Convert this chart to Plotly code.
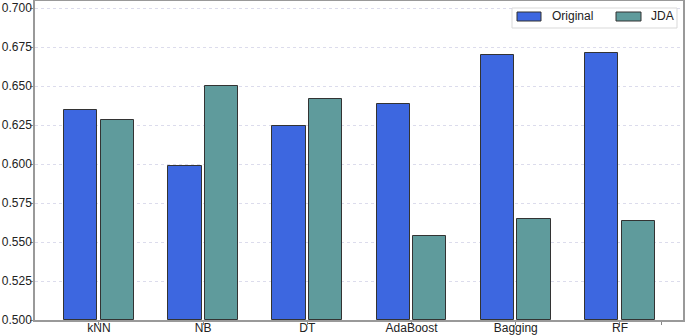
import plotly.graph_objects as go

categories = ["kNN", "NB", "DT", "AdaBoost", "Bagging", "RF"]
original = [0.6348, 0.5985, 0.6244, 0.6383, 0.6699, 0.6712]
jda = [0.6280, 0.6502, 0.6415, 0.5540, 0.5645, 0.5637]
y_ticks = [0.500, 0.525, 0.550, 0.575, 0.600, 0.625, 0.650, 0.675, 0.700]
series_names = ["Original", "JDA"]
series_colors = ["#3d67e0", "#5f9b9c"]

Y_BASE = 0.5
xpos = list(range(len(categories)))

fig = go.Figure()
fig.add_trace(go.Bar(
    x=xpos, y=[v - Y_BASE for v in original], base=Y_BASE, name=series_names[0],
    marker=dict(color=series_colors[0], line=dict(color="#333333", width=1)),
    width=0.32, offset=-0.335, showlegend=False,
))
fig.add_trace(go.Bar(
    x=xpos, y=[v - Y_BASE for v in jda], base=Y_BASE, name=series_names[1],
    marker=dict(color=series_colors[1], line=dict(color="#333333", width=1)),
    width=0.32, offset=0.015, showlegend=False,
))

# Custom legend (matplotlib-style wide swatches) in paper coordinates
L, R, T, B = 35, 683, 1, 320
W, H = R - L, B - T
px = lambda x: (x - L) / W
py = lambda y: (B - y) / H

shapes = [
    dict(type="rect", xref="paper", yref="paper",
         x0=px(512), x1=px(677), y0=py(28), y1=py(8),
         line=dict(color="#d9d9d9", width=1), fillcolor="white", layer="above"),
    dict(type="rect", xref="paper", yref="paper",
         x0=px(517), x1=px(541), y0=py(21), y1=py(12),
         line=dict(color="#333333", width=1), fillcolor=series_colors[0], layer="above"),
    dict(type="rect", xref="paper", yref="paper",
         x0=px(616), x1=px(641), y0=py(21), y1=py(12),
         line=dict(color="#333333", width=1), fillcolor=series_colors[1], layer="above"),
]
annotations = [
    dict(text=series_names[0], xref="paper", yref="paper", x=px(550), y=py(16.5),
         xanchor="left", yanchor="middle", showarrow=False,
         font=dict(size=12, color="#222222")),
    dict(text=series_names[1], xref="paper", yref="paper", x=px(649), y=py(16.5),
         xanchor="left", yanchor="middle", showarrow=False,
         font=dict(size=12, color="#222222")),
]

font_family = "Liberation Sans, Arial, sans-serif"
fig.update_layout(
    width=685, height=336, autosize=False,
    margin=dict(l=L, r=685 - R, t=T, b=336 - B),
    paper_bgcolor="white", plot_bgcolor="white",
    font=dict(family=font_family, size=12, color="#222222"),
    showlegend=False,
    shapes=shapes, annotations=annotations,
    bargap=0,
)
fig.update_xaxes(
    range=[-0.614, 5.605],
    tickmode="array",
    tickvals=xpos + [5.4],
    ticktext=categories + [""],
    ticks="outside", ticklen=3, tickcolor="#888888",
    ticklabelstandoff=-7,
    showline=True, linecolor="#999999", linewidth=1.5, mirror=True,
    showgrid=False, zeroline=False, automargin=False,
)
fig.update_yaxes(
    range=[0.5, 0.7045],
    tickmode="array",
    tickvals=y_ticks,
    ticktext=[f"{v:.3f}" for v in y_ticks],
    ticks="outside", ticklen=3, tickcolor="#888888",
    ticklabelstandoff=-4,
    showline=True, linecolor="#999999", linewidth=1.5, mirror=True,
    showgrid=True, gridcolor="#dcdcec", griddash="dot", gridwidth=1,
    zeroline=False, automargin=False,
)
fig.write_html(
    "out.html",
    config={"displayModeBar": False},
    post_script="document.body.style.margin='0';document.body.style.padding='0';",
)
